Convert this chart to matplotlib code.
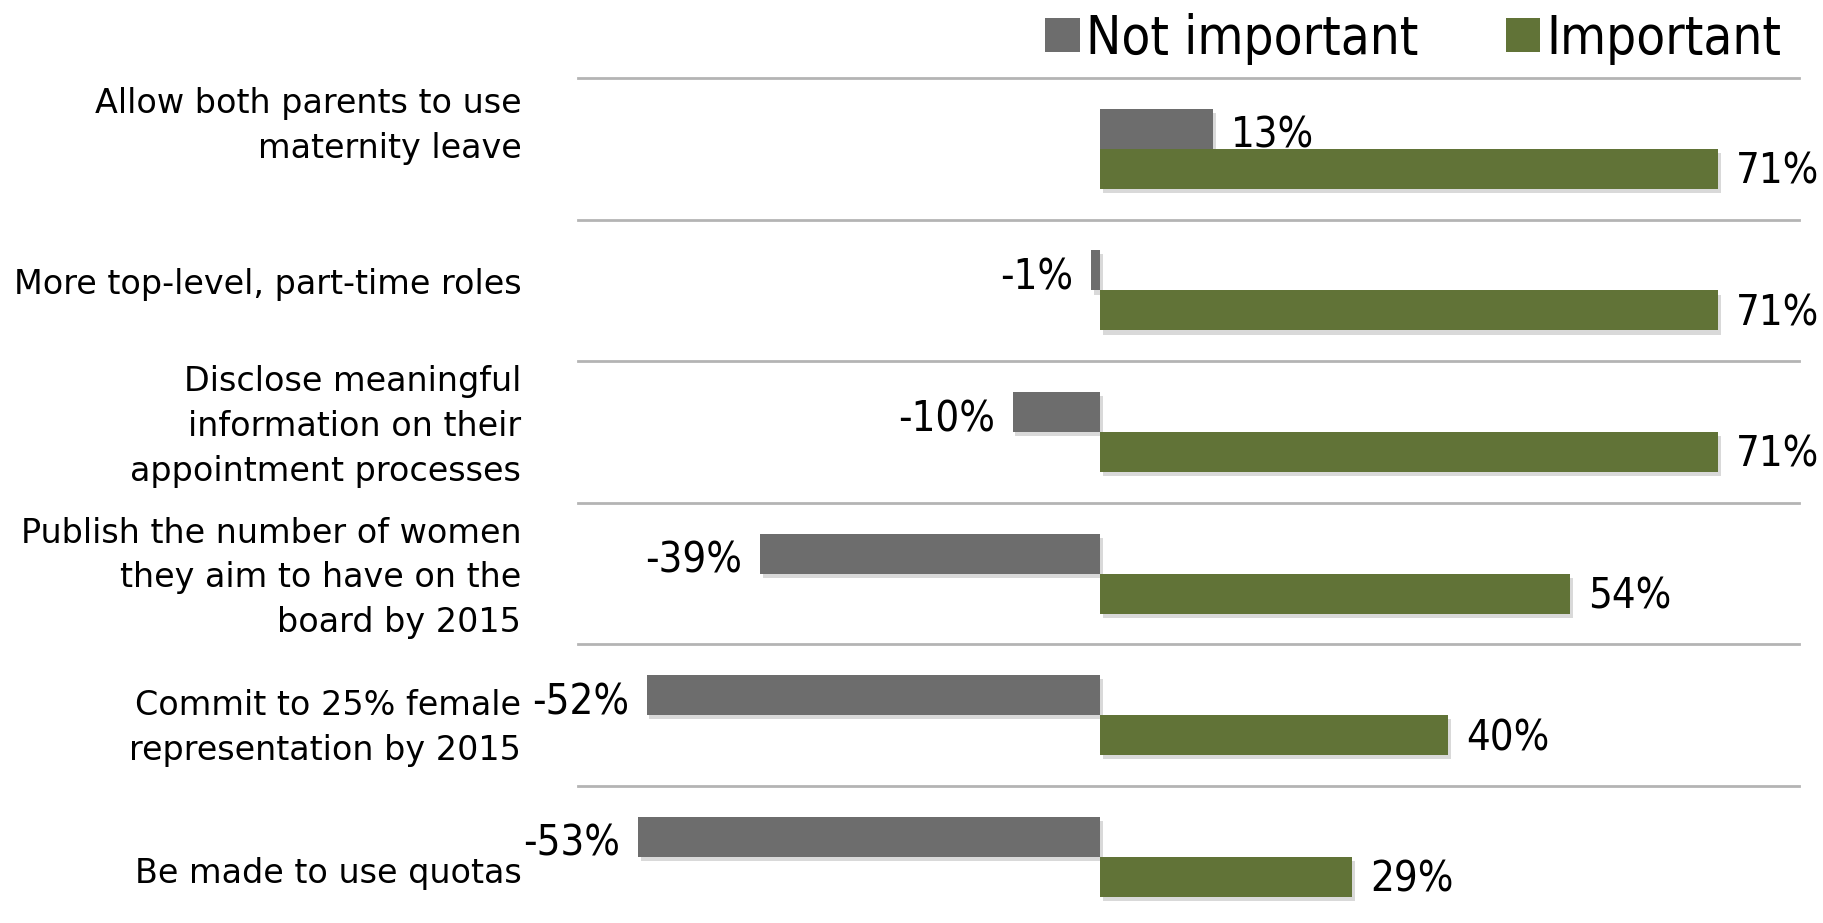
import matplotlib
matplotlib.use("Agg")
import matplotlib.pyplot as plt
import matplotlib.patheffects as pe
import numpy as np

# Survey answers, one row per proposal (top to bottom)
categories = [
    "Allow both parents to use\nmaternity leave",
    "More top-level, part-time roles",
    "Disclose meaningful\ninformation on their\nappointment processes",
    "Publish the number of women\nthey aim to have on the\nboard by 2015",
    "Commit to 25% female\nrepresentation by 2015",
    "Be made to use quotas",
]
not_important = [13, -1, -10, -39, -52, -53]
important = [71, 71, 71, 54, 40, 29]
series_names = ["Not important", "Important"]

GREY = "#6d6d6d"
GREEN = "#617337"

fig = plt.figure(figsize=(18.23, 9.23), dpi=100)
ax = fig.add_axes([0.317, -0.005, 0.670, 0.9205])

y = np.arange(len(categories))
h = 0.283
shadow = [pe.SimplePatchShadow(offset=(2, -3), shadow_rgbFace="#000000", alpha=0.15), pe.Normal()]

b1 = ax.barh(y - h / 2, not_important, height=h, color=GREY, label=series_names[0],
             path_effects=shadow, zorder=3)
b2 = ax.barh(y + h / 2, important, height=h, color=GREEN, label=series_names[1],
             path_effects=shadow, zorder=3)

ax.set_xlim(-59.9, 80.3)
ax.set_ylim(len(categories) - 0.5, -0.5)

# separators between the groups
for edge in np.arange(-0.5, len(categories), 1.0):
    ax.axhline(edge, color="#b4b4b4", lw=2, zorder=1, clip_on=False)

val_font = dict(family="DejaVu Sans", stretch="condensed", fontsize=30)

# value labels next to each bar end
for bars, vals, dy in ((b1, not_important, 0.05), (b2, important, 0.02)):
    for bar, v in zip(bars, vals):
        yc = bar.get_y() + bar.get_height() / 2 + dy
        off = 18 if v >= 0 else -18
        ax.annotate(f"{v}%", (v, yc), xytext=(off, 0), textcoords="offset pixels",
                    ha="left" if v >= 0 else "right", va="center",
                    annotation_clip=False, **val_font)

# category names on the left
label_nudge = [-0.16, -0.04, -0.04, 0.03, 0.09, 0.12]
for yi, name, dy in zip(y, categories, label_nudge):
    ax.text(-66.4, yi + dy, name, ha="right", va="center", fontsize=24,
            family="DejaVu Sans", linespacing=1.45, clip_on=False)

ax.set_xticks([])
ax.set_yticks([])
for s in ax.spines.values():
    s.set_visible(False)

leg = ax.legend(handles=[b1, b2], loc="lower right", bbox_to_anchor=(0.996, 1.0),
                ncol=2, frameon=False,
                prop={"family": "DejaVu Sans", "stretch": "condensed", "size": 38},
                handlelength=0.65, handleheight=0.62, handletextpad=0.12,
                columnspacing=1.65, borderaxespad=-0.15)
for hnd in leg.legend_handles:
    hnd.set_path_effects([])

fig.savefig("out.png", dpi=100)
